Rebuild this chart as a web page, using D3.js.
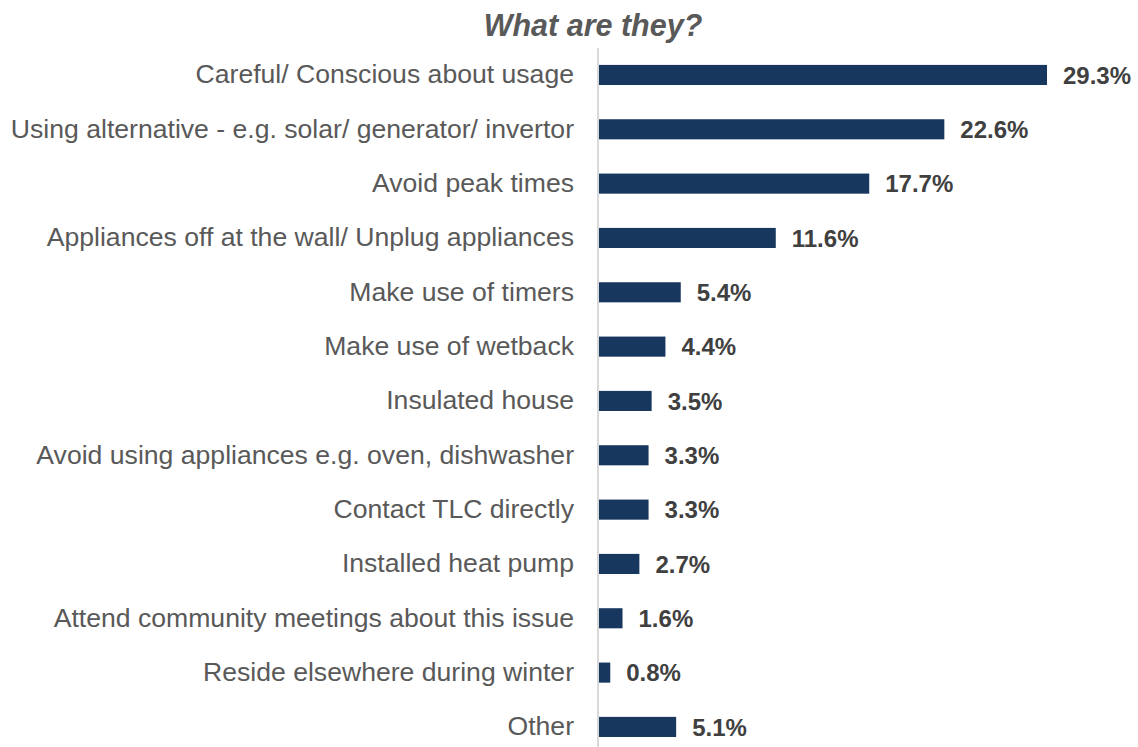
<!DOCTYPE html>
<html>
<head>
<meta charset="utf-8">
<script src="https://cdn.jsdelivr.net/npm/d3@7"></script>
<style>
  html, body { margin: 0; padding: 0; background: #fff; }
  svg { display: block; font-family: "Liberation Sans", Arial, sans-serif; }
</style>
</head>
<body>
<svg id="chart" width="1138" height="747"></svg>
<script>
// Ways households manage their electricity use (% of respondents)
const categories = [
  "Careful/ Conscious about usage",
  "Using alternative - e.g. solar/ generator/ invertor",
  "Avoid peak times",
  "Appliances off at the wall/ Unplug appliances",
  "Make use of timers",
  "Make use of wetback",
  "Insulated house",
  "Avoid using appliances e.g. oven, dishwasher",
  "Contact TLC directly",
  "Installed heat pump",
  "Attend community meetings about this issue",
  "Reside elsewhere during winter",
  "Other"
];
const values = [29.3, 22.6, 17.7, 11.6, 5.4, 4.4, 3.5, 3.3, 3.3, 2.7, 1.6, 0.8, 5.1];
const title = "What are they?";

const svg = d3.select("#chart");
const axisX = 598;

const x = d3.scaleLinear().domain([0, 29.3]).range([axisX, 1047]);
const y = d3.scaleBand()
  .domain(categories)
  .range([47.8, 754.1])
  .paddingInner(0.63)
  .paddingOuter(0.315);

// Title
svg.append("text")
  .attr("x", 593)
  .attr("y", 36)
  .attr("text-anchor", "middle")
  .attr("font-size", 30.5)
  .attr("font-weight", "bold")
  .attr("font-style", "italic")
  .attr("fill", "#595959")
  .text(title);

// Bars
svg.append("g").selectAll("rect")
  .data(values)
  .join("rect")
  .attr("x", x(0))
  .attr("y", (d, i) => y(categories[i]))
  .attr("width", d => x(d) - x(0))
  .attr("height", y.bandwidth())
  .attr("fill", "#17375E");

// Category axis (left, no ticks)
const axis = svg.append("g")
  .attr("transform", `translate(${axisX},0)`)
  .call(d3.axisLeft(y).tickSize(0).tickPadding(24));
axis.select(".domain").remove();
axis.selectAll("text")
  .attr("font-size", 26.6)
  .attr("font-family", "Liberation Sans, Arial, sans-serif")
  .attr("fill", "#595959");

// Vertical axis line
svg.append("line")
  .attr("x1", axisX).attr("x2", axisX)
  .attr("y1", 48).attr("y2", 747)
  .attr("stroke", "#D9D9D9")
  .attr("stroke-width", 2);

// Value labels
svg.append("g").selectAll("text")
  .data(values)
  .join("text")
  .attr("x", d => x(d) + 16)
  .attr("y", (d, i) => y(categories[i]) + y.bandwidth() / 2)
  .attr("dy", "0.36em")
  .attr("font-size", 24)
  .attr("font-weight", "bold")
  .attr("fill", "#404040")
  .text(d => d.toFixed(1) + "%");
</script>
</body>
</html>
